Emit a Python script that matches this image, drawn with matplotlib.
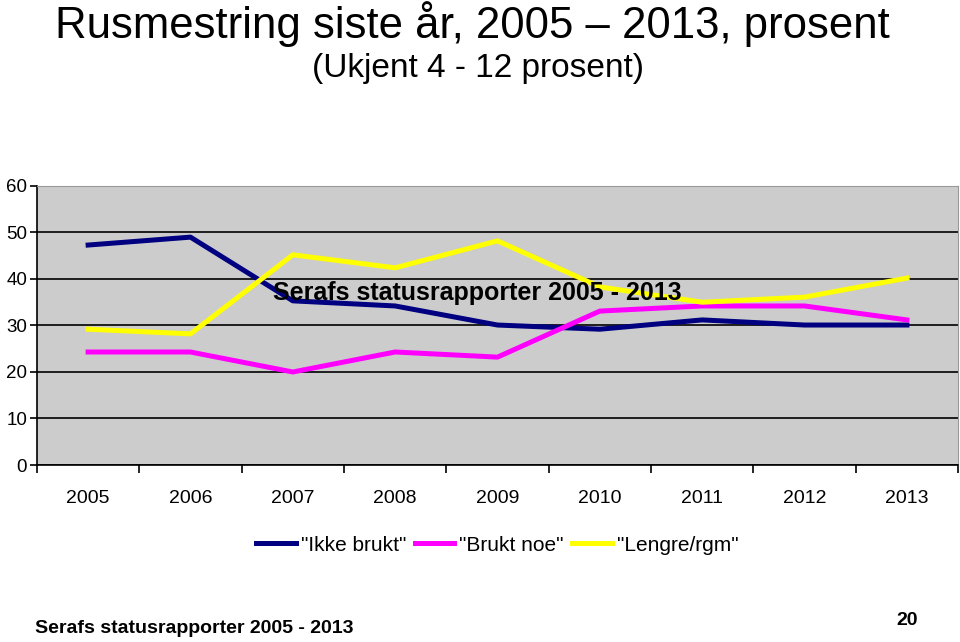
import numpy as np
import matplotlib
matplotlib.use("Agg")
import matplotlib.pyplot as plt

plt.rcParams['font.family'] = ['Liberation Sans', 'DejaVu Sans']

# ── Data ──
years = ["2005", "2006", "2007", "2008", "2009", "2010", "2011", "2012", "2013"]
ikke_brukt = [47.3, 49.0, 35.3, 34.2, 30.1, 29.2, 31.2, 30.1, 30.1]
brukt_noe = [24.3, 24.3, 20.0, 24.3, 23.2, 33.1, 34.2, 34.2, 31.2]
lengre_rgm = [29.2, 28.2, 45.2, 42.4, 48.2, 38.3, 35.0, 36.1, 40.2]

fig = plt.figure(figsize=(9.6, 6.42), dpi=100)
ax = fig.add_axes([0.0385, 0.2757, 0.9595, 0.4346])
ax.set_facecolor("#CCCCCC")

x = np.arange(len(years)) + 0.5
ax.plot(x, ikke_brukt, color="#000080", linewidth=3.6, label='"Ikke brukt"', zorder=3)
ax.plot(x, brukt_noe, color="#FF00FF", linewidth=3.6, label='"Brukt noe"', zorder=3)
ax.plot(x, lengre_rgm, color="#FFFF00", linewidth=3.6, label='"Lengre/rgm"', zorder=3)

ax.set_xlim(0, len(years))
ax.set_ylim(0, 60)
ax.set_yticks(range(0, 61, 10))
ax.set_xticks(np.arange(len(years) + 1))
ax.set_xticklabels([])
ax.set_xticks(x, minor=True)
ax.set_xticklabels(years, minor=True)
ax.tick_params(axis="x", which="minor", length=0, pad=18, labelsize=14)
ax.tick_params(axis="x", which="major", length=6, width=1.2, direction="out")
ax.tick_params(axis="y", length=5, width=1.2, labelsize=13.5, pad=2)
ax.yaxis.grid(True, color="black", linewidth=1.2)
ax.set_axisbelow(True)

for side in ["top", "right"]:
    ax.spines[side].set_color("#999999")
ax.spines["left"].set_linewidth(1.2)
ax.spines["bottom"].set_linewidth(1.2)

ax.text(2.31, 37, "Serafs statusrapporter 2005 - 2013", fontsize=18,
        fontweight="bold", ha="left", va="center", zorder=4)

fig.text(0.057, 0.962, "Rusmestring siste år, 2005 – 2013, prosent",
         fontsize=31.5, ha="left", va="center")
fig.text(0.498, 0.893, "(Ukjent 4 - 12 prosent)", fontsize=24,
         ha="center", va="center")

fig.legend(loc="center", bbox_to_anchor=(0.518, 0.151), ncol=3, frameon=False,
           fontsize=15, handlelength=1.9, handletextpad=0.25, columnspacing=0.4)

fig.text(0.036, 0.021, "Serafs statusrapporter 2005 - 2013", fontsize=14,
         fontweight="bold", ha="left", va="center")
fig.text(0.945, 0.034, "20", fontsize=14, fontweight="bold",
         ha="center", va="center")

fig.savefig("out.png", dpi=100)
